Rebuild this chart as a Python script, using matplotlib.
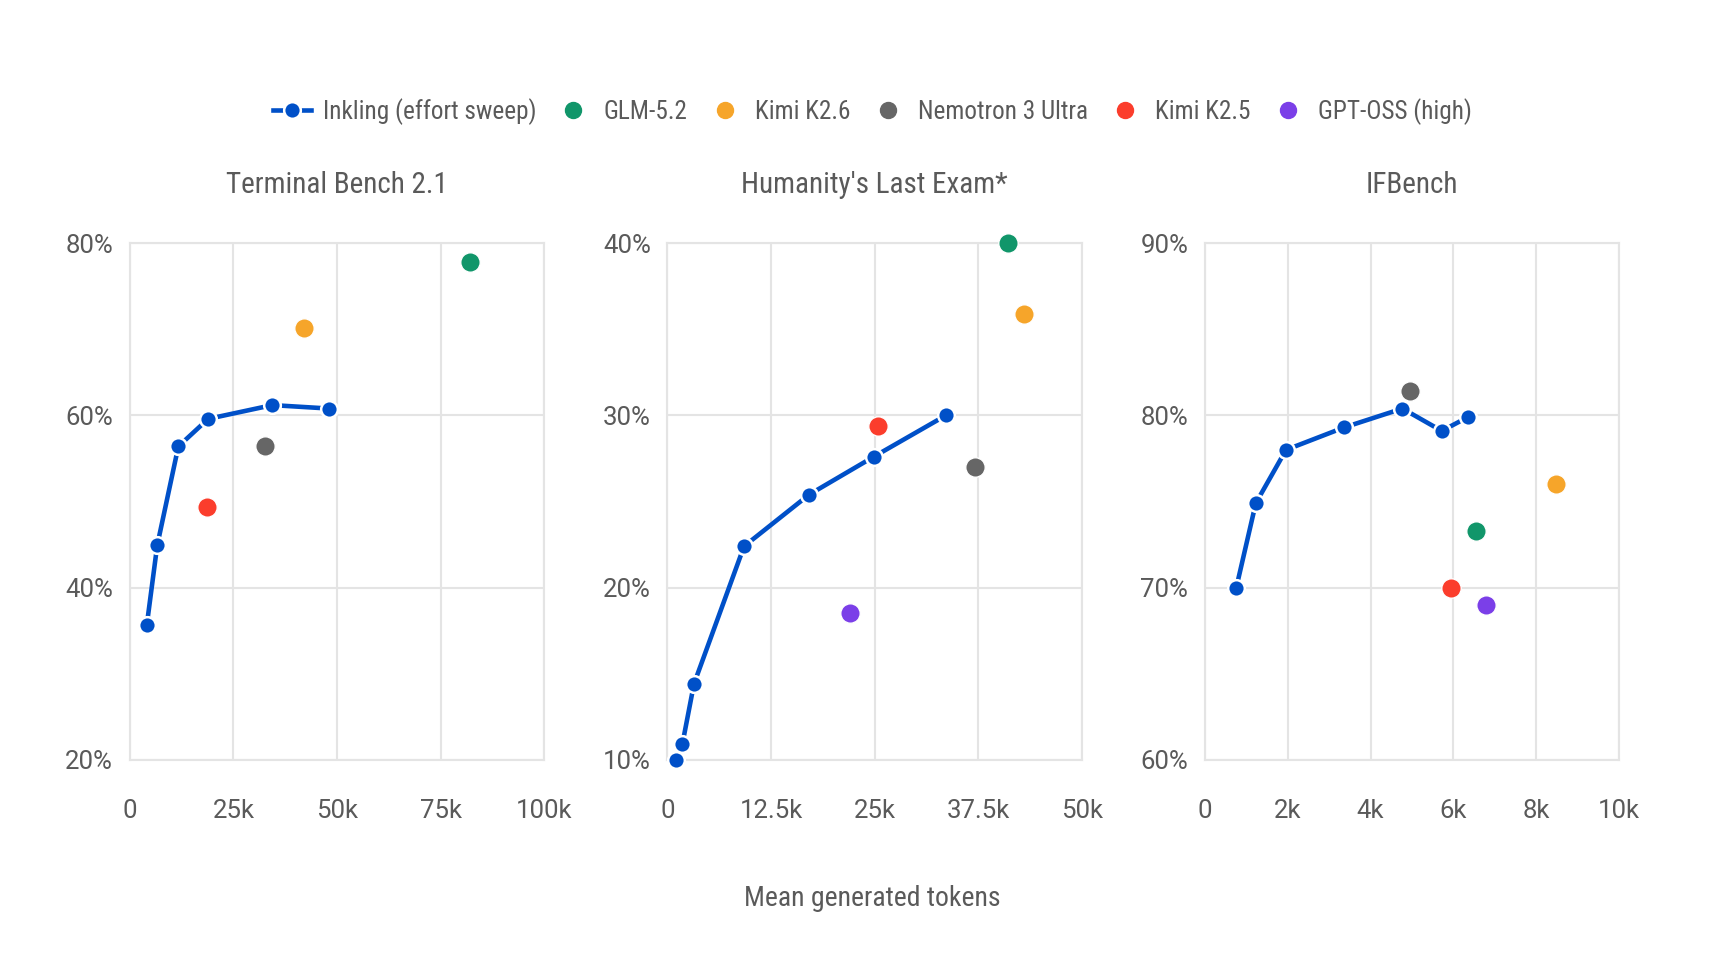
import matplotlib.pyplot as plt
from matplotlib.lines import Line2D
from matplotlib.ticker import FixedLocator, FuncFormatter

# --- data ---
panel_titles = ["Terminal Bench 2.1", "Humanity's Last Exam*", "IFBench"]

# Inkling effort sweep: x = mean generated tokens, y = score (%)
inkling_x_tb = [4100, 6600, 11700, 18900, 34400, 48100]
inkling_y_tb = [35.7, 44.9, 56.4, 59.6, 61.2, 60.8]
inkling_x_hle = [1000, 1800, 3200, 9250, 17100, 24900, 33600]
inkling_y_hle = [10.0, 10.9, 14.4, 22.4, 25.4, 27.6, 30.0]
inkling_x_ifb = [760, 1230, 1960, 3360, 4770, 5720, 6350]
inkling_y_ifb = [70.0, 74.9, 78.0, 79.3, 80.4, 79.1, 79.9]

models = ["GLM-5.2", "Kimi K2.6", "Nemotron 3 Ultra", "Kimi K2.5", "GPT-OSS (high)"]
# None = model not shown in that panel
models_x_tb = [82100, 42100, 32600, 18500, None]
models_y_tb = [77.8, 70.2, 56.5, 49.4, None]
models_x_hle = [41100, 43000, 37100, 25400, 22000]
models_y_hle = [40.0, 35.9, 27.0, 29.4, 18.5]
models_x_ifb = [6540, 8490, 4950, 5950, 6800]
models_y_ifb = [73.3, 76.0, 81.4, 70.0, 69.0]

x_ticks_tb = [0, 25000, 50000, 75000, 100000]
x_labels_tb = ["0", "25k", "50k", "75k", "100k"]
x_ticks_hle = [0, 12500, 25000, 37500, 50000]
x_labels_hle = ["0", "12.5k", "25k", "37.5k", "50k"]
x_ticks_ifb = [0, 2000, 4000, 6000, 8000, 10000]
x_labels_ifb = ["0", "2k", "4k", "6k", "8k", "10k"]
y_ticks_tb = [20, 40, 60, 80]
y_ticks_hle = [10, 20, 30, 40]
y_ticks_ifb = [60, 70, 80, 90]

# --- styles ---
inkling_color = "#0050c8"
model_colors = ["#11966a", "#f6a52a", "#666666", "#fb3d2c", "#7b3fe8"]
grid_color = "#e4e4e4"
text_color = "#5a5a5a"
label_font = ["Roboto Condensed", "Roboto", "DejaVu Sans"]
tick_font = ["Roboto", "DejaVu Sans"]

panels = [
    (inkling_x_tb, inkling_y_tb, models_x_tb, models_y_tb, x_ticks_tb, x_labels_tb, y_ticks_tb),
    (inkling_x_hle, inkling_y_hle, models_x_hle, models_y_hle, x_ticks_hle, x_labels_hle, y_ticks_hle),
    (inkling_x_ifb, inkling_y_ifb, models_x_ifb, models_y_ifb, x_ticks_ifb, x_labels_ifb, y_ticks_ifb),
]

fig = plt.figure(figsize=(17.18, 9.59), dpi=100)
lefts = [0.0756, 0.3885, 0.7013]
width = 0.2411
bottom = 0.2078
height = 0.5385

for i, (ix, iy, mx, my, xt, xl, yt) in enumerate(panels):
    ax = fig.add_axes([lefts[i], bottom, width, height])
    ax.set_xlim(xt[0], xt[-1])
    ax.set_ylim(yt[0], yt[-1])
    ax.xaxis.set_major_locator(FixedLocator(xt))
    ax.set_xticklabels(xl)
    ax.yaxis.set_major_locator(FixedLocator(yt))
    ax.yaxis.set_major_formatter(FuncFormatter(lambda v, p: f"{v:.0f}%"))
    ax.grid(True, color=grid_color, linewidth=1.5)
    ax.set_axisbelow(True)
    for s in ax.spines.values():
        s.set_color(grid_color)
        s.set_linewidth(1.5)
    ax.tick_params(length=0, labelsize=18.5, labelcolor=text_color)
    ax.tick_params(axis="x", pad=28)
    ax.tick_params(axis="y", pad=12)
    for lab in ax.get_xticklabels() + ax.get_yticklabels():
        lab.set_family(tick_font)

    ax.plot(ix, iy, color=inkling_color, linewidth=3.3, marker="o", markersize=12,
            markerfacecolor=inkling_color, markeredgecolor="white", markeredgewidth=1.8,
            zorder=3, clip_on=False)
    for k in range(len(models)):
        if mx[k] is None:
            continue
        ax.plot(mx[k], my[k], linestyle="none", marker="o", markersize=14,
                color=model_colors[k], markeredgecolor="white", markeredgewidth=1.0,
                zorder=4, clip_on=False)

    ax.text(0.5, 1.113, panel_titles[i], transform=ax.transAxes, ha="center",
            va="center", fontsize=21, color=text_color, family=label_font)

# legend
handles = [Line2D([], [], color=inkling_color, linewidth=3.3, marker="o", markersize=12,
                  markerfacecolor=inkling_color, markeredgecolor="white", markeredgewidth=1.8)]
for k in range(len(models)):
    handles.append(Line2D([], [], linestyle="none", marker="o", markersize=11.5,
                          color=model_colors[k]))
labels = ["Inkling (effort sweep)"] + models
leg = fig.legend(handles, labels, loc="center", bbox_to_anchor=(0.508, 0.884), ncol=6,
                 frameon=False, handlelength=1.5, handletextpad=0.45, columnspacing=0.72,
                 prop={"family": label_font, "size": 18.2})
for t in leg.get_texts():
    t.set_color(text_color)

fig.text(0.508, 0.063, "Mean generated tokens", ha="center", va="center",
         fontsize=20, color=text_color, family=label_font)

fig.savefig("out.png", dpi=100, facecolor="white")
